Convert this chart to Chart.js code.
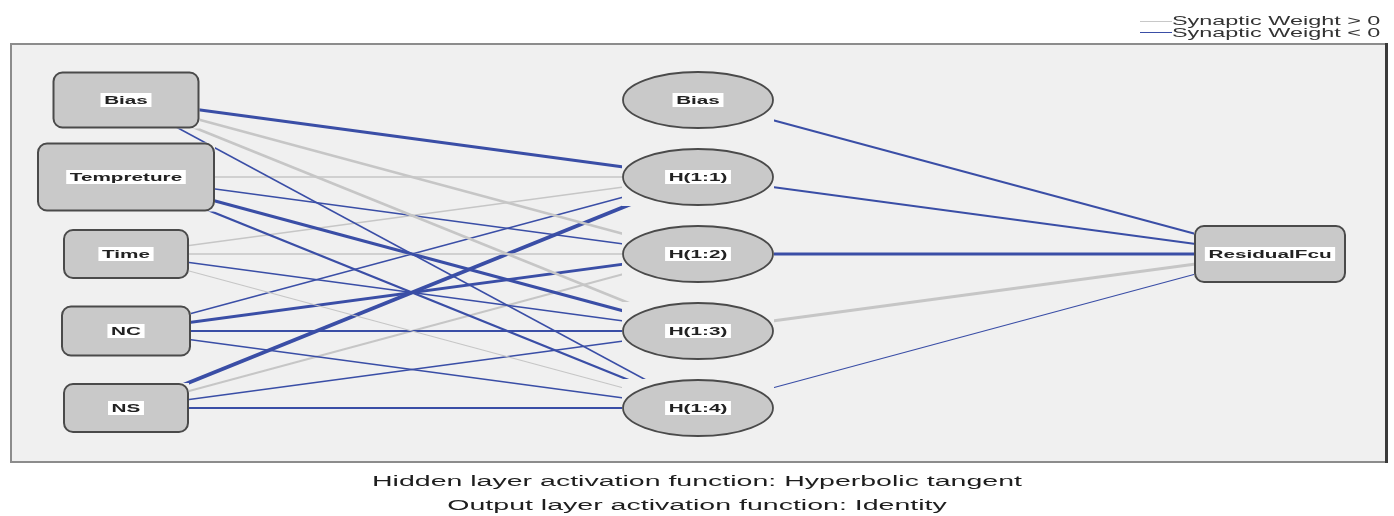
<!DOCTYPE html>
<html>
<head>
<meta charset="utf-8">
<script src="https://cdn.jsdelivr.net/npm/chart.js@4"></script>
<style>
html,body{margin:0;padding:0;background:#fff;}
#wrap{position:relative;width:1394px;height:516px;overflow:hidden;font-family:"Liberation Sans",Arial,sans-serif;color:#222;}
#net{position:absolute;left:0;top:0;}
.cap{position:absolute;left:0;width:1394px;text-align:center;font-size:15.5px;line-height:20px;white-space:nowrap;transform:scaleX(1.84);transform-origin:697px 50%;color:#1e1e1e;}
#cap1{top:471px;}
#cap2{top:495px;}
.lg{position:absolute;left:1172px;font-size:13px;line-height:14px;white-space:nowrap;transform:scaleX(1.8);transform-origin:0 50%;color:#333;}
#lg1{top:14px;}
#lg2{top:26px;}
.sw{position:absolute;left:1140px;width:32px;height:0;}
#sw1{top:21px;border-top:1.5px solid #c8c8c8;}
#sw2{top:32px;border-top:1.5px solid #3a4ea6;}
</style>
</head>
<body>
<div id="wrap">
  <canvas id="net" width="1394" height="516"></canvas>
  <div class="sw" id="sw1"></div><div class="lg" id="lg1">Synaptic Weight &gt; 0</div>
  <div class="sw" id="sw2"></div><div class="lg" id="lg2">Synaptic Weight &lt; 0</div>
  <div class="cap" id="cap1">Hidden layer activation function: Hyperbolic tangent</div>
  <div class="cap" id="cap2">Output layer activation function: Identity</div>
</div>
<script>
// network structure
const inputNodes  = ['Bias','Tempreture','Time','NC','NS'];
const hiddenNodes = ['Bias','H(1:1)','H(1:2)','H(1:3)','H(1:4)'];
const outputNodes = ['ResidualFcu'];
// synaptic weights, rows = input nodes, cols = H(1:1)..H(1:4) (estimated from line width/colour)
const wInputHidden = [
  [-2.94,  2.00,  2.35, -0.82],
  [ 1.18, -0.94, -2.94, -2.00],
  [ 0.59,  0.82, -0.82,  0.59],
  [-0.82, -2.47, -1.53, -0.82],
  [-3.88,  1.53, -0.94, -1.53]
];
// hidden (Bias, H(1:1)..H(1:4)) -> ResidualFcu
const wHiddenOutput = [-1.53, -1.53, -2.47, 2.71, -0.59];

// styling
const SX = 1.8;               // horizontal stretch of the lettering
const BG = '#f0f0f0';
const NODE_FILL = '#c9c9c9';
const NODE_EDGE = '#4a4a4a';
const POS = '#c6c6c6', NEG = '#3a4ea6';
const inputBoxW = [145,176,124,128,124];
const inputBoxH = [55,67,48,49,48];
const ELL_RX = 75, ELL_RY = 28;
const OUT_W = 150, OUT_H = 56;

function lineWidth(w){ return 0.8 + 0.8*Math.abs(w); }
const outIdx = (hiddenNodes.length-1)/2;

const datasets = [];
wInputHidden.forEach((row,i)=>{
  row.forEach((w,j)=>{
    datasets.push({data:[{x:0,y:i},{x:1,y:j+1}], borderColor:w>0?POS:NEG, borderWidth:lineWidth(w)});
  });
});
wHiddenOutput.forEach((w,j)=>{
  datasets.push({data:[{x:1,y:j},{x:2,y:outIdx}], borderColor:w>0?POS:NEG, borderWidth:lineWidth(w)});
});
datasets.forEach(d=>{ d.showLine=true; d.pointRadius=0; d.fill=false; d.tension=0; d.borderCapStyle='butt'; });

function label(ctx,text,x,y){
  ctx.save();
  ctx.translate(x,y);
  ctx.scale(SX,1);
  ctx.font='bold 11.5px "Liberation Sans", Arial, sans-serif';
  const w=ctx.measureText(text).width;
  ctx.fillStyle='#fff';
  ctx.fillRect(-w/2-2,-7,w+4,14);
  ctx.fillStyle='#222';
  ctx.textAlign='center'; ctx.textBaseline='middle';
  ctx.fillText(text,0,1);
  ctx.restore();
}
function rbox(ctx,x,y,w,h){
  ctx.fillStyle=BG; ctx.fillRect(x-w/2-1,y-h/2-1,w+2,h+2);
  ctx.beginPath(); ctx.roundRect(x-w/2,y-h/2,w,h,9);
  ctx.fillStyle=NODE_FILL; ctx.fill();
  ctx.lineWidth=2; ctx.strokeStyle=NODE_EDGE; ctx.stroke();
}
function ell(ctx,x,y){
  ctx.fillStyle=BG; ctx.fillRect(x-ELL_RX-1,y-ELL_RY-1,2*ELL_RX+2,2*ELL_RY+2);
  ctx.beginPath(); ctx.ellipse(x,y,ELL_RX,ELL_RY,0,0,Math.PI*2);
  ctx.fillStyle=NODE_FILL; ctx.fill();
  ctx.lineWidth=1.8; ctx.strokeStyle=NODE_EDGE; ctx.stroke();
}

const nodePlugin={
  id:'nodes',
  beforeDatasetsDraw(chart){
    const {ctx,chartArea:a}=chart;
    ctx.save();
    ctx.fillStyle=BG;
    ctx.fillRect(a.left,a.top,a.right-a.left,a.bottom-a.top);
    ctx.lineWidth=2; ctx.strokeStyle='#8c8c8c';
    ctx.strokeRect(a.left+1,a.top+1,a.right-a.left-2,a.bottom-a.top-2);
    ctx.lineWidth=3; ctx.strokeStyle='#3a3a3a';
    ctx.beginPath(); ctx.moveTo(a.right-1.5,a.top); ctx.lineTo(a.right-1.5,a.bottom); ctx.stroke();
    ctx.restore();
  },
  afterDatasetsDraw(chart){
    const {ctx}=chart, sx=chart.scales.x, sy=chart.scales.y;
    ctx.save();
    inputNodes.forEach((n,i)=>{
      const x=sx.getPixelForValue(0), y=sy.getPixelForValue(i);
      rbox(ctx,x,y,inputBoxW[i],inputBoxH[i]); label(ctx,n,x,y);
    });
    hiddenNodes.forEach((n,j)=>{
      const x=sx.getPixelForValue(1), y=sy.getPixelForValue(j);
      ell(ctx,x,y); label(ctx,n,x,y);
    });
    outputNodes.forEach(n=>{
      const x=sx.getPixelForValue(2), y=sy.getPixelForValue(outIdx);
      rbox(ctx,x,y,OUT_W,OUT_H); label(ctx,n,x,y);
    });
    ctx.restore();
  }
};

new Chart(document.getElementById('net').getContext('2d'),{
  type:'scatter',
  data:{datasets},
  options:{
    responsive:false, animation:false, devicePixelRatio:1, events:[],
    layout:{padding:{left:10,right:6,top:43,bottom:53}},
    plugins:{legend:{display:false},tooltip:{enabled:false},title:{display:false}},
    scales:{
      x:{type:'linear',display:false,min:-0.2028,max:2.2063},
      y:{type:'linear',display:false,reverse:true,min:-0.7403,max:4.7143}
    }
  },
  plugins:[nodePlugin]
});
</script>
</body>
</html>
